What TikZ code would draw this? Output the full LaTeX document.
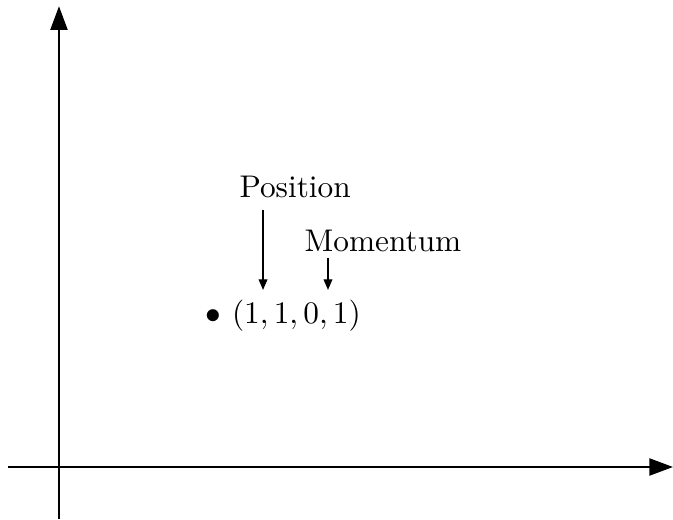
\documentclass[tikz,border=0pt]{standalone}
\usepackage{amsmath,amssymb}
\usepackage{tikz}
\usetikzlibrary{arrows.meta,positioning,calc}

\begin{document}
\begin{tikzpicture}[
  axis/.style={-{Triangle[length=7.5pt,width=5.5pt]}},
  pointer/.style={-{Triangle[length=3.4pt,width=2.8pt]}},
  lbl/.style={anchor=base west,inner sep=0pt}]
\useasboundingbox (-0.662,-0.584) rectangle (6.891,5.241);
% axes
\coordinate (xl) at (-0.572,0);
\coordinate (xr) at (6.89,0);
\coordinate (yb) at (0,-0.584);
\coordinate (yt) at (0,5.17);
\draw[axis] (xl) -- (xr);
\draw[axis] (yb) -- (yt);
% point and its labels
\node[lbl] (pt) at (1.642,1.616) {$\bullet$ $(1,1,0,1)$};
\node[lbl] (pos) at (2.02,3.019) {Position};
\node[lbl] (mom) at (2.75,2.413) {Momentum};
\coordinate (posA) at (2.29,2.884);
\coordinate (posB) at (2.29,1.987);
\coordinate (momA) at (3.019,2.346);
\coordinate (momB) at (3.019,1.987);
\draw[pointer] (posA) -- (posB);
\draw[pointer] (momA) -- (momB);
\end{tikzpicture}
\end{document}
